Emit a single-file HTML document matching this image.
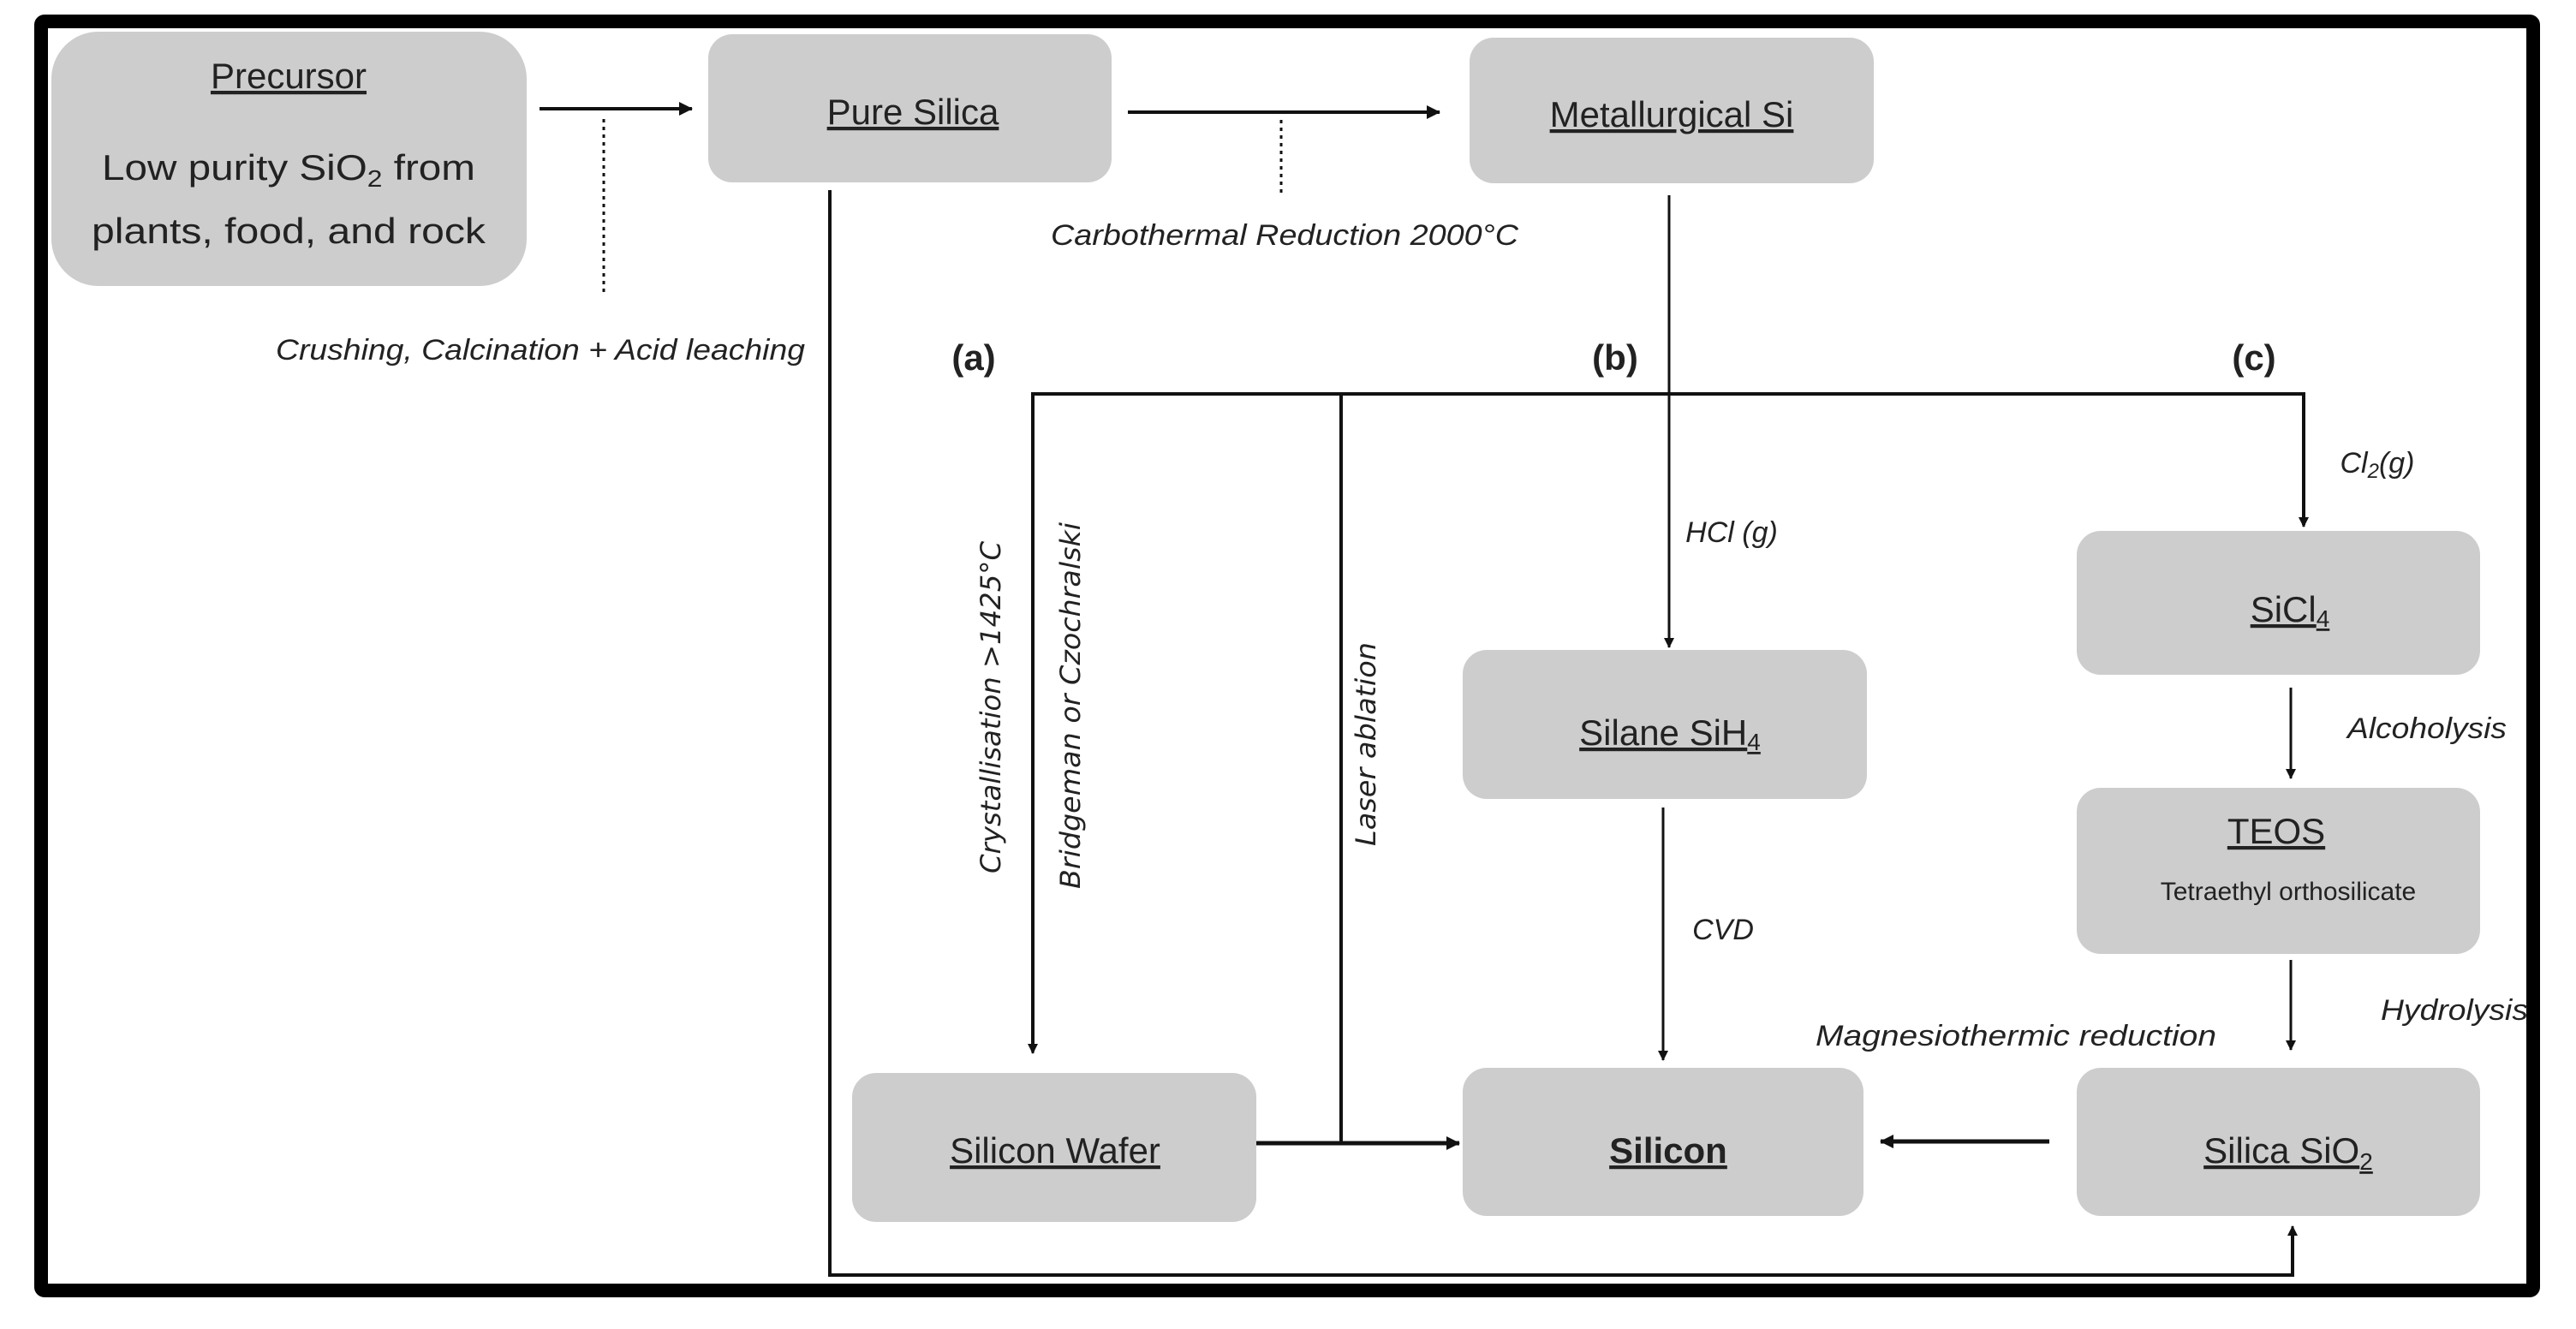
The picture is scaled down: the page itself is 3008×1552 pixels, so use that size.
<!DOCTYPE html>
<html><head><meta charset="utf-8"><style>
html,body{margin:0;padding:0;background:#fff}
svg{display:block}
text{font-family:"Liberation Sans",sans-serif;fill:#222}
.n{font-size:42px;text-decoration:underline}
.i{font-size:34px;font-style:italic}
.v{font-family:"DejaVu Sans","Liberation Sans",sans-serif;font-size:32px;font-style:italic}
.b{font-size:42px;font-weight:bold}
</style></head><body>
<svg width="3008" height="1552" viewBox="0 0 3008 1552" xmlns="http://www.w3.org/2000/svg">
<defs>
<marker id="a" markerWidth="12" markerHeight="12" refX="11" refY="6" orient="auto" markerUnits="userSpaceOnUse" viewBox="0 0 12 12">
<path d="M0,0 L12,6 L0,12 z" fill="#111"/></marker>
<marker id="s" markerWidth="16" markerHeight="16" refX="15" refY="8" orient="auto" markerUnits="userSpaceOnUse" viewBox="0 0 16 16">
<path d="M0,0 L16,8 L0,16 z" fill="#111"/></marker>
</defs>
<rect x="48" y="25" width="2910" height="1482" fill="none" stroke="#000" stroke-width="16" rx="4"/>
<g fill="#cdcdcd">
<rect x="60" y="37" width="555" height="297" rx="55"/>
<rect x="827" y="40" width="471" height="173" rx="28"/>
<rect x="1716" y="44" width="472" height="170" rx="28"/>
<rect x="1708" y="759" width="472" height="174" rx="28"/>
<rect x="2425" y="620" width="471" height="168" rx="28"/>
<rect x="2425" y="920" width="471" height="194" rx="28"/>
<rect x="995" y="1253" width="472" height="174" rx="28"/>
<rect x="1708" y="1247" width="468" height="173" rx="28"/>
<rect x="2425" y="1247" width="471" height="173" rx="28"/>
</g>
<g stroke="#111" fill="none">
<line x1="630" y1="127" x2="808" y2="127" stroke-width="4" marker-end="url(#s)"/>
<line x1="705" y1="139" x2="705" y2="342" stroke-width="3" stroke-dasharray="4,5"/>
<line x1="1317" y1="131" x2="1681" y2="131" stroke-width="4" marker-end="url(#s)"/>
<line x1="1496" y1="140" x2="1496" y2="228" stroke-width="3" stroke-dasharray="4,5"/>
<line x1="1949" y1="228" x2="1949" y2="756" stroke-width="3" marker-end="url(#a)"/>
<polyline points="1206,1228 1206,460 2690,460 2690,613" stroke-width="4"/>
<line x1="1206" y1="1200" x2="1206" y2="1230" stroke-width="3" marker-end="url(#a)"/>
<line x1="2690" y1="590" x2="2690" y2="615" stroke-width="3" marker-end="url(#a)"/>
<line x1="1566" y1="460" x2="1566" y2="1335" stroke-width="4"/>
<line x1="1467" y1="1335" x2="1704" y2="1335" stroke-width="5" marker-end="url(#s)"/>
<line x1="2393" y1="1333" x2="2196" y2="1333" stroke-width="5" marker-end="url(#s)"/>
<line x1="1942" y1="943" x2="1942" y2="1238" stroke-width="3" marker-end="url(#a)"/>
<line x1="2675" y1="803" x2="2675" y2="909" stroke-width="3" marker-end="url(#a)"/>
<line x1="2675" y1="1121" x2="2675" y2="1226" stroke-width="3" marker-end="url(#a)"/>
<polyline points="969,222 969,1489 2677,1489 2677,1436" stroke-width="4"/>
<line x1="2677" y1="1460" x2="2677" y2="1432" stroke-width="3" marker-end="url(#a)"/>
</g>
<text class="n" x="337" y="103" text-anchor="middle">Precursor</text>
<text x="337" y="210" text-anchor="middle" font-size="42" textLength="436" lengthAdjust="spacingAndGlyphs">Low purity SiO<tspan font-size="28" dy="8">2</tspan><tspan dy="-8"> from</tspan></text>
<text x="337" y="284" text-anchor="middle" font-size="42" textLength="460" lengthAdjust="spacingAndGlyphs">plants, food, and rock</text>
<text class="n" x="1066" y="145" text-anchor="middle">Pure Silica</text>
<text class="n" x="1952" y="148" text-anchor="middle">Metallurgical Si</text>
<text class="n" x="1950" y="870" text-anchor="middle">Silane SiH<tspan font-size="28" dy="6">4</tspan></text>
<text class="n" x="2674" y="726" text-anchor="middle">SiCl<tspan font-size="28" dy="6">4</tspan></text>
<text class="n" x="2658" y="985" text-anchor="middle">TEOS</text>
<text x="2672" y="1051" text-anchor="middle" font-size="30">Tetraethyl orthosilicate</text>
<text class="n" x="1232" y="1358" text-anchor="middle">Silicon Wafer</text>
<text class="n" x="1948" y="1358" text-anchor="middle" font-weight="bold">Silicon</text>
<text class="n" x="2672" y="1358" text-anchor="middle">Silica SiO<tspan font-size="28" dy="8">2</tspan></text>
<text class="i" x="322" y="420" textLength="618" lengthAdjust="spacingAndGlyphs">Crushing, Calcination + Acid leaching</text>
<text class="i" x="1500" y="286" text-anchor="middle" textLength="546" lengthAdjust="spacingAndGlyphs">Carbothermal Reduction 2000°C</text>
<text class="b" x="1137" y="432" text-anchor="middle">(a)</text>
<text class="b" x="1886" y="432" text-anchor="middle">(b)</text>
<text class="b" x="2632" y="432" text-anchor="middle">(c)</text>
<text class="i" x="2776" y="552" text-anchor="middle">Cl<tspan font-size="24" dy="6">2</tspan><tspan dy="-6">(g)</tspan></text>
<text class="i" x="2022" y="633" text-anchor="middle">HCl (g)</text>
<text class="i" x="2834" y="862" text-anchor="middle" textLength="186" lengthAdjust="spacingAndGlyphs">Alcoholysis</text>
<text class="i" x="2866" y="1191" text-anchor="middle" textLength="172" lengthAdjust="spacingAndGlyphs">Hydrolysis</text>
<text class="i" x="2012" y="1097" text-anchor="middle">CVD</text>
<text class="i" x="2354" y="1221" text-anchor="middle" textLength="468" lengthAdjust="spacingAndGlyphs">Magnesiothermic reduction</text>
<text class="v" transform="translate(1168,826) rotate(-90)" text-anchor="middle" textLength="388" lengthAdjust="spacingAndGlyphs">Crystallisation &gt;1425°C</text>
<text class="v" transform="translate(1261,824) rotate(-90)" text-anchor="middle" textLength="428" lengthAdjust="spacingAndGlyphs">Bridgeman or Czochralski</text>
<text class="v" transform="translate(1606,869) rotate(-90)" text-anchor="middle" textLength="238" lengthAdjust="spacingAndGlyphs">Laser ablation</text>
</svg>
</body></html>
